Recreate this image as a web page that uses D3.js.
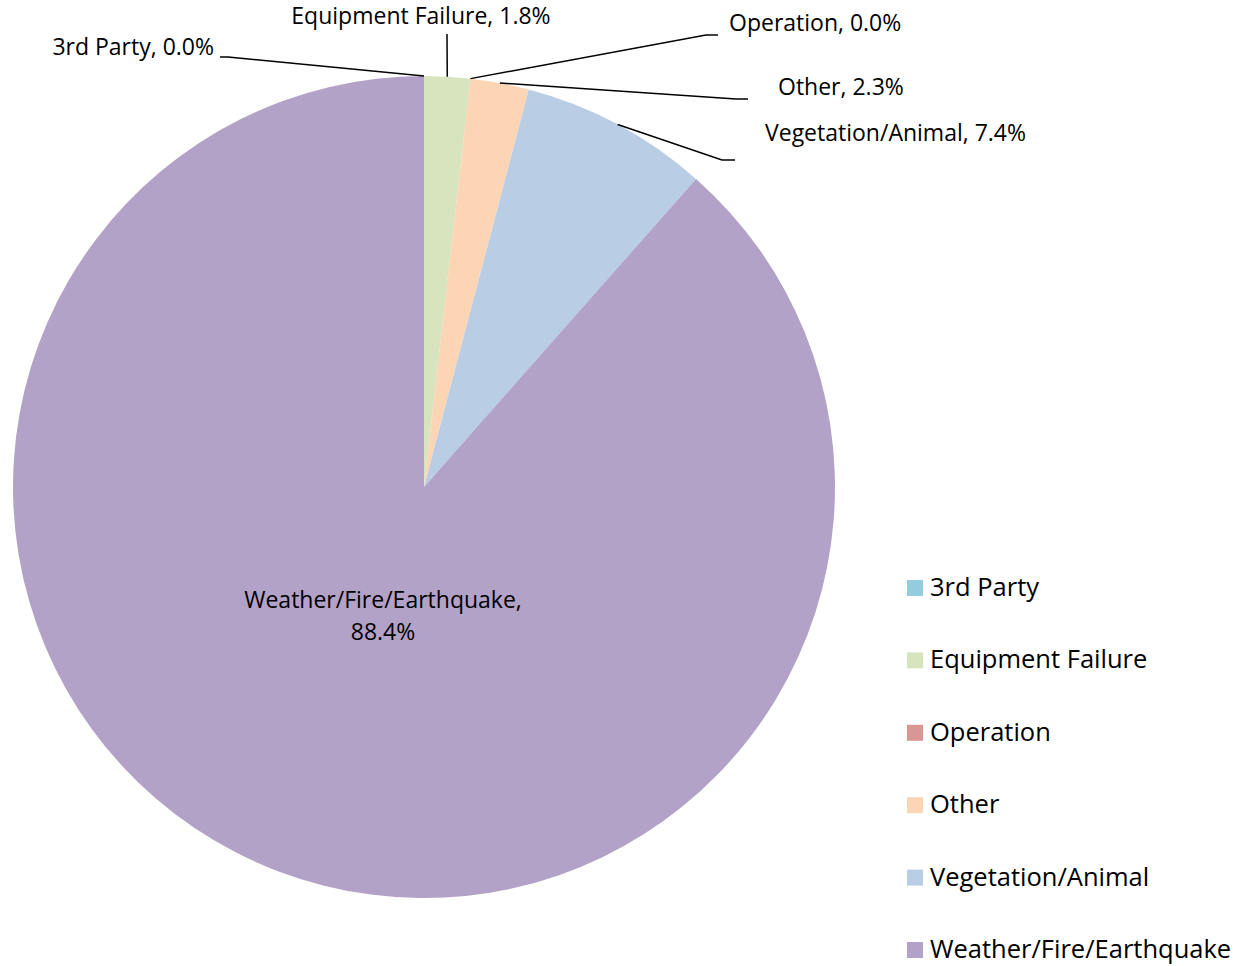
<!DOCTYPE html>
<html>
<head>
<meta charset="utf-8">
<script src="https://cdn.jsdelivr.net/npm/d3@7"></script>
<style>
  body { margin: 0; background: #fff; }
  text { font-family: "Open Sans", Lato, sans-serif; fill: #000; }
</style>
</head>
<body>
<div class="chart"></div>
<script>
// data
const categories = ["3rd Party", "Equipment Failure", "Operation", "Other", "Vegetation/Animal", "Weather/Fire/Earthquake"];
const shares = [0.0, 1.8, 0.0, 2.3, 7.4, 88.4];
const colors = ["#93cddd", "#d7e4bd", "#d99694", "#fcd5b5", "#b9cde5", "#b3a2c7"];

// where the outside labels sit (elbow point of the leader, text anchor side)
const labelSpots = [
  { ex: 228, ey: 57, hx: 220, anchor: "end", tx: 214, ty: 55 },
  { ex: 447, ey: 34, hx: 447, anchor: "middle", tx: 421, ty: 24 },
  { ex: 706, ey: 35, hx: 718, anchor: "start", tx: 729, ty: 31 },
  { ex: 736, ey: 99, hx: 748, anchor: "start", tx: 778, ty: 95 },
  { ex: 722, ey: 160, hx: 735, anchor: "start", tx: 765, ty: 141 },
  null
];

const W = 1256, H = 966;
const cx = 424, cy = 487, R = 411;

const svg = d3.select(".chart").append("svg")
  .attr("width", W)
  .attr("height", H);

const pie = d3.pie().sort(null).value(d => d.value);
const arcs = pie(categories.map((c, i) => ({ name: c, value: shares[i], color: colors[i], spot: labelSpots[i] })));

const arc = d3.arc().innerRadius(0).outerRadius(R);

const g = svg.append("g").attr("transform", `translate(${cx},${cy})`);

g.selectAll("path.slice")
  .data(arcs)
  .enter().append("path")
  .attr("class", "slice")
  .attr("d", arc)
  .attr("fill", d => d.data.color);

// leader lines + labels
function edgePoint(d) {
  const a = (d.startAngle + d.endAngle) / 2;
  return [cx + R * Math.sin(a), cy - R * Math.cos(a)];
}

const fmt = v => v.toFixed(1) + "%";

arcs.forEach(d => {
  const s = d.data.spot;
  if (!s) return;
  const p = edgePoint(d);
  svg.append("polyline")
    .attr("points", [p, [s.ex, s.ey], [s.hx, s.ey]].map(q => q.join(",")).join(" "))
    .attr("fill", "none")
    .attr("stroke", "#000")
    .attr("stroke-width", 1.5);
  svg.append("text")
    .attr("x", s.tx)
    .attr("y", s.ty)
    .attr("text-anchor", s.anchor)
    .style("font-size", "23px")
    .text(`${d.data.name}, ${fmt(d.data.value)}`);
});

// big slice label inside
const big = arcs[5];
const bigText = svg.append("text")
  .attr("text-anchor", "middle")
  .style("font-size", "23px");
bigText.append("tspan").attr("x", 383).attr("y", 608).text(big.data.name + ",");
bigText.append("tspan").attr("x", 383).attr("y", 640).text(fmt(big.data.value));

// legend
const legend = svg.append("g").attr("transform", "translate(907,580)");
const item = legend.selectAll("g")
  .data(categories)
  .enter().append("g")
  .attr("transform", (d, i) => `translate(0,${i * 72.4})`);
item.append("rect")
  .attr("width", 16)
  .attr("height", 16)
  .attr("fill", (d, i) => colors[i]);
item.append("text")
  .attr("x", 23)
  .attr("y", 16)
  .style("font-size", "25.5px")
  .text(d => d);
</script>
</body>
</html>
